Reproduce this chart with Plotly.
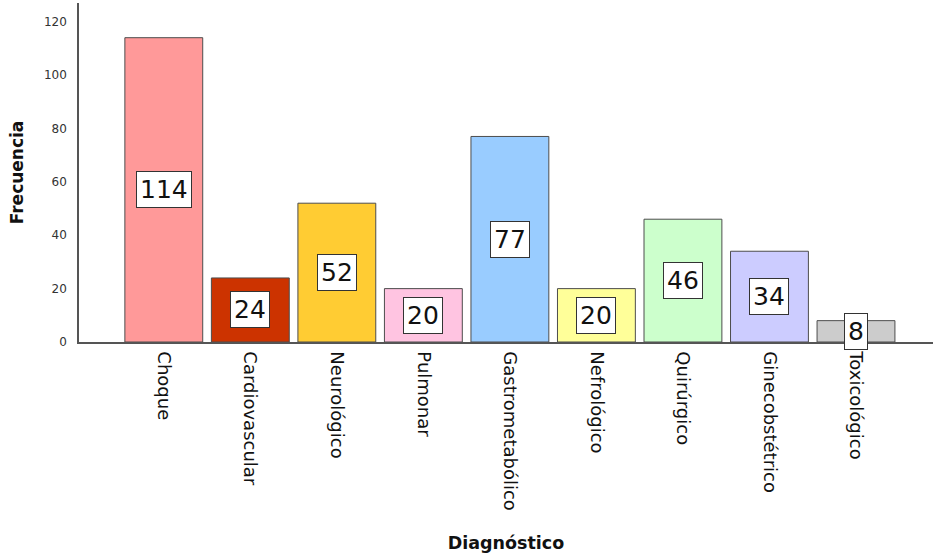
import plotly.graph_objects as go

categorias = ["Choque", "Cardiovascular", "Neurológico", "Pulmonar", "Gastrometabólico",
              "Nefrológico", "Quirúrgico", "Ginecobstétrico", "Toxicológico"]
frecuencias = [114, 24, 52, 20, 77, 20, 46, 34, 8]
colores = ["#FF9999", "#CC3300", "#FFCC33", "#FFC4E1", "#99CCFF",
           "#FFFF99", "#CCFFCC", "#CCCCFF", "#CCCCCC"]
ticks_y = [0, 20, 40, 60, 80, 100, 120]

fig = go.Figure()
fig.add_trace(go.Bar(
    x=categorias, y=frecuencias,
    marker=dict(color=colores, line=dict(color="#4d4d4d", width=1)),
    hoverinfo="x+y",
))

# value labels in white boxes at mid-height of each bar
for cat, val in zip(categorias, frecuencias):
    fig.add_annotation(
        x=cat, y=val / 2, text=str(val), showarrow=False,
        font=dict(family="DejaVu Sans", size=25, color="#111111"),
        bgcolor="white", bordercolor="#333333", borderwidth=1, borderpad=3,
    )

fig.update_layout(
    width=933, height=559,
    margin=dict(l=79, r=0, t=3, b=217),
    paper_bgcolor="white", plot_bgcolor="white",
    bargap=0.1, showlegend=False,
    font=dict(family="DejaVu Sans", color="#222222"),
)
fig.update_xaxes(
    range=[-0.98, 8.89], tickangle=90,
    tickfont=dict(family="DejaVu Sans", size=18, color="#111111"),
    showline=True, linecolor="#555555", linewidth=1.5,
    showgrid=False, ticks="", ticklabelstandoff=4,
    title=dict(text="<b>Diagnóstico</b>", font=dict(family="DejaVu Sans", size=17.5, color="#111111"),
               standoff=27),
)
fig.update_yaxes(
    range=[0, 127], tickvals=ticks_y,
    tickfont=dict(family="DejaVu Sans", size=12, color="#333333"),
    showline=True, linecolor="#555555", linewidth=1.5,
    showgrid=False, zeroline=False, ticks="", ticklabelstandoff=8,
    title=dict(text="<b>Frecuencia</b>", font=dict(family="DejaVu Sans", size=17, color="#111111"),
               standoff=16),
)

fig.write_html("out.html")
